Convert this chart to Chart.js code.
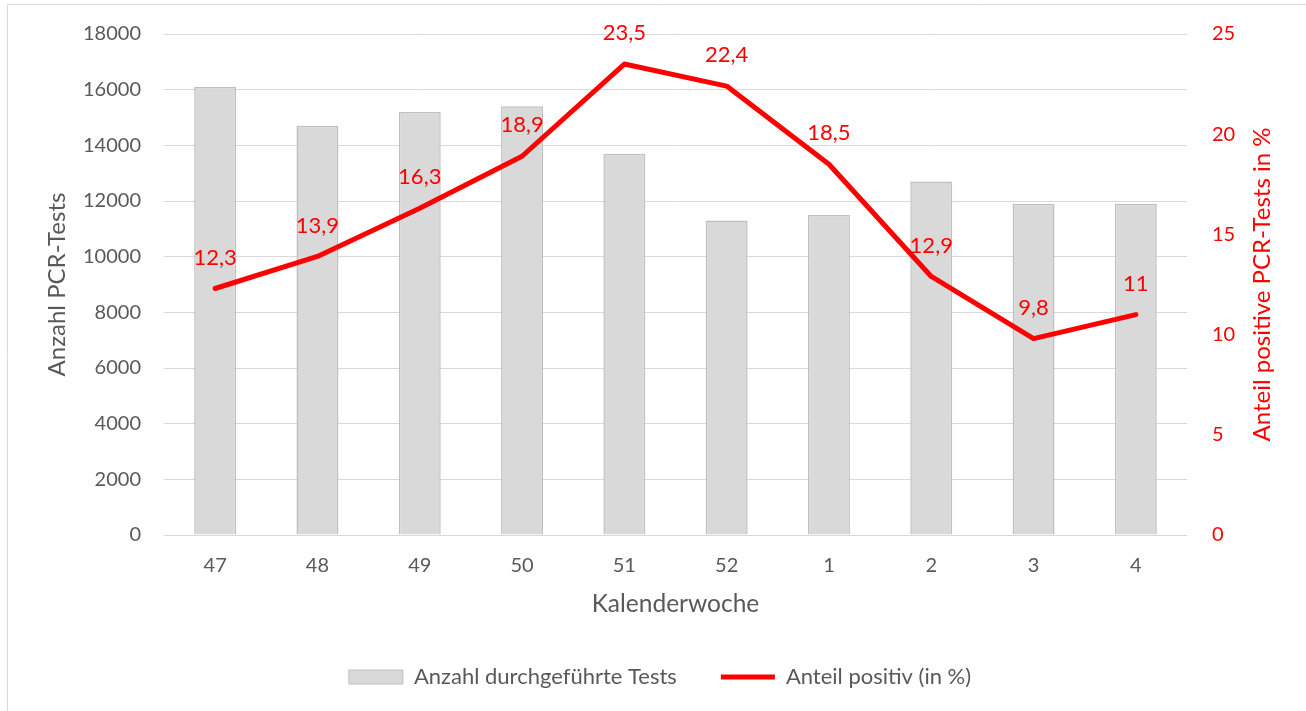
<!DOCTYPE html>
<html>
<head>
<meta charset="utf-8">
<script src="https://cdn.jsdelivr.net/npm/chart.js@4"></script>
<style>
  html, body { margin: 0; padding: 0; background: #fff; }
  #wrap { position: relative; width: 1306px; height: 711px; }
</style>
</head>
<body>
<div id="wrap"><canvas id="c" width="1306" height="711"></canvas></div>
<script>
const categories = ['47', '48', '49', '50', '51', '52', '1', '2', '3', '4'];
const testCounts = [16100, 14700, 15200, 15400, 13700, 11300, 11500, 12700, 11900, 11900];
const positiveShare = [12.3, 13.9, 16.3, 18.9, 23.5, 22.4, 18.5, 12.9, 9.8, 11];
const leftTicks = { min: 0, max: 18000, step: 2000 };
const rightTicks = { min: 0, max: 25, step: 5 };

const GREY_TEXT = '#595959';
const RED = '#ff0000';
const FONT = 'Lato';

const frameAndLabels = {
  id: 'frameAndLabels',
  beforeDraw(chart) {
    const ctx = chart.ctx;
    ctx.save();
    ctx.fillStyle = '#ffffff';
    ctx.fillRect(0, 0, chart.width, chart.height);
    ctx.strokeStyle = '#d9d9d9';
    ctx.lineWidth = 1;
    ctx.beginPath();
    ctx.moveTo(7.5, chart.height);
    ctx.lineTo(7.5, 4.5);
    ctx.lineTo(chart.width, 4.5);
    ctx.stroke();
    ctx.restore();
  },
  afterDatasetsDraw(chart) {
    const ctx = chart.ctx;
    const meta = chart.getDatasetMeta(1);
    ctx.save();
    ctx.font = '22px ' + FONT;
    ctx.fillStyle = RED;
    ctx.textAlign = 'center';
    ctx.textBaseline = 'middle';
    meta.data.forEach((pt, i) => {
      const v = chart.data.datasets[1].data[i];
      ctx.fillText(String(v).replace('.', ','), pt.x, pt.y - 31);
    });
    ctx.restore();
  },
  afterDraw(chart) {
    const ctx = chart.ctx;
    const a = chart.chartArea;
    ctx.save();
    ctx.font = '24px ' + FONT;
    ctx.fillStyle = RED;
    ctx.textAlign = 'center';
    ctx.textBaseline = 'middle';
    ctx.translate(1262, (a.top + a.bottom) / 2);
    ctx.rotate(-Math.PI / 2);
    ctx.fillText('Anteil positive PCR-Tests in %', 0, 0);
    ctx.restore();
  }
};

new Chart(document.getElementById('c'), {
  type: 'bar',
  data: {
    labels: categories,
    datasets: [
      {
        type: 'bar',
        label: 'Anzahl durchgeführte Tests',
        data: testCounts,
        yAxisID: 'y',
        backgroundColor: '#d9d9d9',
        borderColor: '#bfbfbf',
        borderWidth: 1.5,
        categoryPercentage: 1,
        barPercentage: 0.41,
        order: 2
      },
      {
        type: 'line',
        label: 'Anteil positiv (in %)',
        data: positiveShare,
        yAxisID: 'y1',
        borderColor: RED,
        backgroundColor: RED,
        borderWidth: 5,
        pointRadius: 0,
        pointHoverRadius: 0,
        tension: 0,
        borderJoinStyle: 'round',
        borderCapStyle: 'round',
        pointStyle: 'line',
        order: 1
      }
    ]
  },
  options: {
    responsive: false,
    animation: false,
    events: [],
    layout: { padding: { top: 34, left: 14, right: 0, bottom: 13 } },
    plugins: {
      tooltip: { enabled: false },
      legend: {
        position: 'bottom',
        labels: {
          font: { family: FONT, size: 22 },
          color: GREY_TEXT,
          usePointStyle: true,
          pointStyleWidth: 54,
          boxHeight: 14,
          padding: 44,
          sort: (a, b) => a.datasetIndex - b.datasetIndex,
          generateLabels(chart) {
            return chart.data.datasets.map((ds, i) => ({
              text: ds.label,
              datasetIndex: i,
              fillStyle: ds.backgroundColor,
              strokeStyle: ds.type === 'line' ? RED : '#bfbfbf',
              lineWidth: ds.type === 'line' ? 5 : 1,
              pointStyle: ds.type === 'line' ? 'line' : 'rect',
              fontColor: GREY_TEXT,
              hidden: false
            }));
          }
        }
      }
    },
    scales: {
      x: {
        offset: true,
        grid: { display: false, drawTicks: false },
        border: { display: false },
        ticks: { color: GREY_TEXT, font: { family: FONT, size: 20 }, padding: 19 },
        title: { display: true, text: 'Kalenderwoche', color: GREY_TEXT, font: { family: FONT, size: 24.5 }, padding: { top: 0, bottom: 3 } },
        afterFit(scale) { scale.height = 87; }
      },
      y: {
        position: 'left',
        min: leftTicks.min,
        max: leftTicks.max,
        ticks: { stepSize: leftTicks.step, color: GREY_TEXT, font: { family: FONT, size: 20 }, padding: 23, callback: (v) => String(v) },
        grid: { color: '#d9d9d9', lineWidth: 1, drawTicks: false },
        border: { display: false },
        title: { display: true, text: 'Anzahl PCR-Tests', color: GREY_TEXT, font: { family: FONT, size: 24 }, padding: { top: 29, bottom: 0 } },
        afterFit(scale) { scale.width = 150; scale.paddingTop = 0; scale.paddingBottom = 0; }
      },
      y1: {
        position: 'right',
        min: rightTicks.min,
        max: rightTicks.max,
        ticks: { stepSize: rightTicks.step, color: RED, font: { family: FONT, size: 20 }, padding: 25, callback: (v) => String(v) },
        grid: { display: false, drawTicks: false },
        border: { display: false },
        afterFit(scale) { scale.width = 119; scale.paddingTop = 0; scale.paddingBottom = 0; }
      }
    }
  },
  plugins: [frameAndLabels]
});
</script>
</body>
</html>
